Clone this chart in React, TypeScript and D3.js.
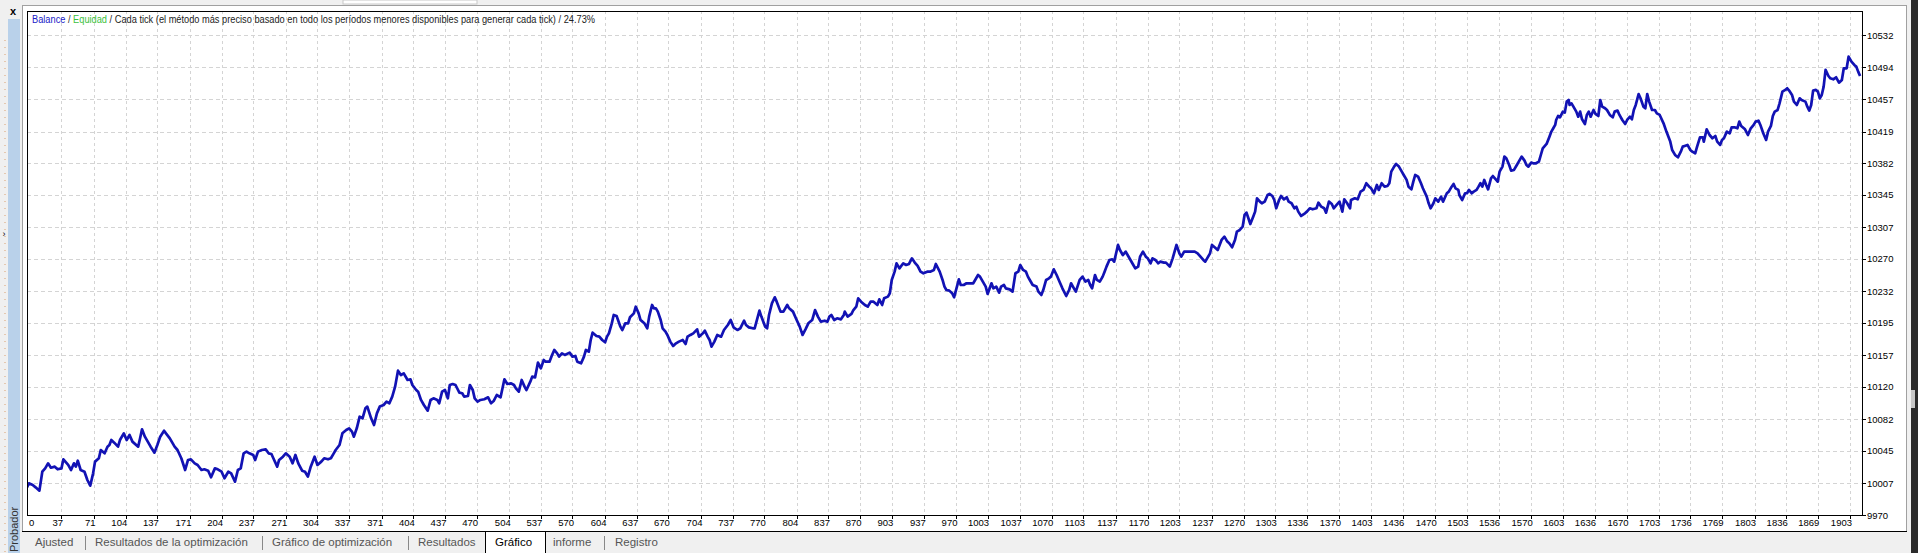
import React from 'react';
import * as d3 from 'd3';

// trade number / balance
const trades = [
  0, 3, 7, 10, 14, 17, 20, 23, 26, 30, 33, 37, 39, 44, 47, 50, 52, 54, 57, 61, 64, 67, 70, 72, 76, 78, 82, 85, 87, 89,
  92, 96, 98, 102, 105, 108, 111, 117, 119, 121, 124, 127, 130, 134, 137, 140, 144, 146, 150, 155, 158, 162, 166, 169,
  172, 176, 179, 183, 186, 190, 193, 197, 200, 204, 207, 211, 214, 218, 221, 224, 227, 230, 233, 237, 239, 242, 246,
  250, 253, 256, 258, 262, 264, 268, 271, 275, 278, 281, 284, 288, 291, 294, 297, 301, 304, 308, 311, 315, 318,
  321, 323, 327, 330, 334, 337, 340, 342, 345, 348, 351, 354, 356, 360, 363, 366, 369, 373, 376, 379, 382, 385, 388,
  391, 394, 398, 401, 403, 407, 409, 412, 415, 419, 422, 425, 429, 431, 434, 437, 440, 442, 445, 448, 452, 455, 457,
  461, 463, 466, 468, 471, 474, 478, 482, 485, 488, 491, 495, 499, 502, 506, 509, 511, 514, 517, 520, 522, 526, 528,
  531, 534, 537, 540, 542, 546, 548, 551, 554, 556, 559, 562, 567, 570, 573, 575, 579, 582, 584, 587, 589, 591, 595,
  598, 601, 604, 606, 608, 611, 613, 616, 620, 622, 625, 628, 630, 634, 636,
  639, 641, 643, 645, 648, 650, 653, 655, 657, 659, 662, 664, 667, 669, 672, 675, 678, 681, 685, 688, 690, 693, 696,
  700, 702, 706, 708, 711, 713, 715, 718, 721, 725, 728, 732, 735, 738, 742, 745, 749, 751, 754, 758, 760, 765, 767,
  771, 773, 775, 778, 781, 783, 787, 790, 794, 796, 800, 803, 807, 810, 813, 816, 820, 823, 826, 829, 833, 836, 838,
  840, 843, 846, 850, 853, 854, 857, 861, 863, 866, 868, 871, 875, 878, 881, 884, 888, 890, 893, 895, 899, 901, 903,
  906, 908, 911, 915, 918, 921, 924, 927, 930, 933, 936, 940, 943, 947, 949, 953, 956, 958,
  960, 963, 966, 968, 971, 973, 975, 978, 981, 984, 988, 990, 993, 995, 998, 1001, 1003, 1007, 1009, 1012, 1015,
  1017, 1020, 1022, 1026, 1029, 1032, 1035, 1037, 1040, 1043, 1045, 1047, 1050, 1054, 1056, 1059, 1061, 1064, 1067,
  1069, 1072, 1075, 1078, 1081, 1085, 1088, 1090, 1093, 1095, 1099, 1102, 1105, 1108, 1110, 1112, 1115, 1117, 1120,
  1123, 1125, 1127, 1130, 1133, 1135, 1139, 1141, 1144, 1147, 1149, 1152, 1155, 1157, 1160, 1162, 1165, 1168, 1170,
  1173, 1175, 1178, 1181, 1183, 1187, 1189, 1193, 1196, 1198, 1200, 1203, 1205, 1208, 1212, 1215, 1219, 1222, 1225,
  1228, 1230, 1233, 1235, 1237, 1241, 1243, 1247, 1250, 1253, 1255, 1258, 1261, 1263, 1266, 1269,
  1271, 1273, 1275, 1277, 1280, 1282, 1284, 1287, 1289, 1292, 1295, 1297, 1300, 1302, 1304, 1307, 1309, 1312, 1315,
  1317, 1320, 1323, 1325, 1327, 1330, 1334, 1336, 1339, 1342, 1346, 1348, 1351, 1354, 1356, 1359, 1362, 1364, 1367,
  1370, 1373, 1375, 1378, 1381, 1382, 1386, 1389, 1392, 1395, 1398, 1401, 1403, 1406, 1409, 1411, 1414, 1417, 1420,
  1422, 1424, 1427, 1429, 1432, 1435, 1437, 1440, 1442, 1445, 1447, 1449, 1452, 1455, 1457, 1461, 1463, 1465, 1468,
  1470, 1473, 1476, 1478, 1482, 1484, 1487, 1489, 1491, 1494, 1495, 1498, 1501, 1503, 1505, 1508, 1510, 1513, 1515,
  1517, 1519, 1521, 1523, 1525, 1528, 1530, 1533, 1535, 1537, 1540, 1542, 1544, 1547, 1549, 1552, 1555, 1557, 1560,
  1563, 1565, 1567, 1570, 1572, 1575, 1578, 1580, 1582, 1586,
  1589, 1591, 1593, 1595, 1596, 1598, 1600, 1603, 1605, 1607, 1609, 1610, 1612, 1614, 1617, 1619, 1621, 1623, 1626,
  1628, 1630, 1632, 1635, 1637, 1640, 1642, 1644, 1647, 1649, 1652, 1655, 1657, 1660, 1662, 1665, 1668, 1670, 1673,
  1675, 1677, 1679, 1682, 1684, 1687, 1689, 1691, 1693, 1696, 1699, 1701, 1704, 1708, 1711, 1715, 1717, 1720, 1723,
  1726, 1728, 1730, 1733, 1736, 1738, 1741, 1743, 1746, 1749, 1750, 1753, 1756, 1759, 1762, 1764, 1767, 1769, 1771,
  1774, 1777, 1779, 1782, 1785, 1787, 1789, 1793, 1796, 1799, 1802, 1804, 1807, 1809, 1812, 1815, 1817, 1820, 1822,
  1824, 1827, 1829, 1832, 1835, 1837, 1839, 1842, 1844, 1847, 1850, 1852, 1856, 1858, 1860, 1862, 1864, 1867, 1869,
  1871, 1873, 1875, 1877, 1880, 1882, 1885, 1888, 1891, 1894, 1896, 1899, 1901, 1904, 1907, 1909, 1911, 1913,
];

const balance = [
  10000.0, 10007.1, 10005.1, 10002.4, 9998.5, 10020.7, 10024.6, 10030.5, 10025.4, 10026.6, 10023.5, 10024.6, 10035.2,
  10028.6, 10022.7, 10030.5, 10026.6, 10033.6, 10022.7, 10020.7, 10011.0, 10004.3, 10018.8, 10032.5, 10036.4, 10046.1,
  10042.2, 10050.0, 10052.0, 10057.8, 10054.7, 10050.0, 10057.8, 10065.6, 10057.8, 10063.7, 10055.9, 10050.0, 10059.8,
  10070.3, 10061.7, 10055.9, 10050.0, 10043.0, 10052.0, 10061.7, 10068.7, 10065.6, 10059.8, 10050.0, 10046.1, 10036.4,
  10022.7, 10034.4, 10035.2, 10030.5, 10028.6, 10022.7, 10023.5, 10021.9, 10014.1, 10024.6, 10023.5, 10020.7, 10013.0,
  10020.7, 10018.8, 10009.0, 10022.7, 10024.6, 10042.2, 10044.2, 10042.2, 10040.3, 10034.4, 10044.2, 10046.1, 10046.9,
  10042.2, 10041.4, 10036.4, 10026.6, 10034.4, 10038.3, 10042.2, 10038.3, 10030.5, 10040.3, 10030.5, 10021.9, 10020.7,
  10014.9, 10026.6, 10038.3, 10028.6, 10032.5, 10036.4, 10035.2, 10036.4,
  10042.2, 10046.1, 10052.0, 10065.6, 10069.5, 10071.5, 10067.6, 10061.7, 10071.5, 10085.1, 10083.2, 10094.9, 10096.9,
  10083.2, 10075.4, 10089.0, 10096.9, 10098.8, 10102.7, 10100.8, 10108.6, 10120.3, 10139.0, 10133.9, 10135.9, 10128.1,
  10128.9, 10122.2, 10116.4, 10114.4, 10104.7, 10098.8, 10092.2, 10104.7, 10106.6, 10104.7, 10100.8, 10114.4, 10116.4,
  10106.6, 10122.2, 10123.4, 10122.2, 10113.2, 10112.5, 10108.6, 10109.3, 10122.2, 10116.4, 10106.6, 10102.7, 10104.7,
  10105.5, 10107.8, 10100.8, 10103.9, 10110.5, 10107.8, 10128.9, 10123.4, 10124.2, 10122.2, 10118.3, 10114.4, 10128.1,
  10120.3, 10116.4, 10126.1, 10132.0, 10131.2, 10148.4, 10141.7, 10151.5, 10149.5, 10149.5, 10155.4, 10163.2, 10159.3,
  10155.4, 10159.3, 10157.4, 10160.1, 10155.4, 10156.2, 10149.5, 10147.6, 10155.4, 10163.2, 10161.2, 10174.9, 10183.5,
  10179.6, 10178.8, 10174.9, 10172.2, 10178.8, 10182.7, 10194.4, 10204.2, 10203.0, 10190.5, 10186.6, 10194.4, 10194.4,
  10201.5, 10206.1, 10213.9,
  10206.1, 10198.3, 10196.4, 10194.4, 10188.6, 10202.3, 10215.9, 10212.0, 10212.0, 10208.1, 10198.3, 10188.6, 10184.7,
  10180.8, 10173.0, 10167.9, 10171.0, 10173.0, 10174.9, 10170.2, 10178.8, 10180.8, 10182.7, 10187.4, 10178.8, 10182.7,
  10185.8, 10178.8, 10174.9, 10167.1, 10173.0, 10180.8, 10178.8, 10186.6, 10192.5, 10198.3, 10189.7, 10186.6, 10188.6,
  10197.5, 10192.5, 10189.7, 10188.6, 10188.6, 10209.3, 10202.3, 10190.5, 10188.6, 10204.2, 10217.8, 10224.9, 10219.8,
  10208.1, 10208.1, 10215.9, 10212.0, 10208.1, 10200.3, 10190.5, 10180.8, 10187.4, 10194.4, 10198.3, 10210.0, 10202.3,
  10196.4, 10197.5, 10196.4, 10202.3, 10204.2, 10198.3, 10200.3, 10199.1, 10204.2, 10208.1, 10202.3, 10205.4, 10210.0,
  10213.9, 10223.7, 10219.8, 10215.9, 10213.9, 10219.8, 10219.8, 10215.9, 10222.5, 10215.9, 10223.7, 10225.7, 10229.6,
  10245.2, 10254.9, 10264.7, 10258.8, 10264.7, 10262.7, 10263.9, 10270.5, 10265.5, 10261.6, 10254.9, 10253.0, 10254.9,
  10254.9, 10256.9, 10263.9, 10254.9, 10245.2, 10237.4,
  10233.4, 10232.7, 10229.6, 10224.9, 10237.4, 10245.9, 10239.3, 10239.3, 10241.3, 10241.3, 10241.3, 10245.2, 10251.0,
  10249.1, 10243.2, 10237.4, 10228.8, 10241.3, 10235.4, 10237.4, 10230.3, 10237.4, 10239.3, 10235.4, 10234.2, 10231.5,
  10253.0, 10254.9, 10262.7, 10256.9, 10254.9, 10249.1, 10245.2, 10239.3, 10237.4, 10231.5, 10227.6, 10233.4, 10245.2,
  10247.1, 10249.1, 10257.7, 10251.0, 10243.2, 10235.4, 10226.4, 10233.4, 10241.3, 10235.4, 10231.5, 10245.2, 10249.1,
  10243.2, 10245.2, 10239.3, 10235.4, 10251.0, 10245.2, 10243.2, 10249.1, 10254.9, 10260.8, 10268.6, 10269.4, 10266.6,
  10286.2, 10280.3, 10274.4, 10278.4, 10274.4, 10268.6, 10262.7, 10258.8, 10260.8, 10272.5, 10278.4, 10272.5, 10270.5,
  10264.7, 10270.5, 10268.6, 10264.7, 10266.6, 10265.5, 10265.5, 10260.8, 10270.5, 10278.4, 10286.2, 10276.4, 10272.5,
  10278.4, 10278.4, 10278.4, 10278.4, 10276.4, 10272.5, 10268.6, 10266.6, 10272.5, 10276.4, 10286.2, 10282.3, 10280.3,
  10292.0, 10295.9, 10290.1, 10288.1, 10283.4, 10292.0, 10301.8, 10303.7, 10307.6,
  10321.3, 10324.0, 10317.4, 10310.7, 10319.3, 10325.2, 10340.8, 10336.9, 10335.0, 10336.9, 10344.7, 10345.9, 10343.5,
  10338.8, 10329.1, 10338.8, 10343.5, 10339.6, 10342.0, 10336.9, 10335.0, 10329.1, 10331.0, 10325.2, 10320.1, 10323.2,
  10325.2, 10329.1, 10327.9, 10329.1, 10335.7, 10331.0, 10329.1, 10324.0, 10336.9, 10334.2, 10329.1, 10333.0, 10336.9,
  10325.2, 10339.6, 10335.0, 10329.1, 10338.8, 10340.8, 10339.6, 10348.6, 10350.6, 10358.4, 10354.4, 10352.5, 10346.7,
  10356.4, 10350.6, 10358.4, 10354.4, 10355.2, 10358.4, 10372.0, 10377.9, 10381.0, 10377.9, 10372.0, 10368.1, 10362.3,
  10354.4, 10351.3, 10360.3, 10368.1, 10366.2, 10358.4, 10352.5, 10342.7, 10335.0, 10329.1, 10335.0, 10340.8, 10336.9,
  10342.7, 10336.9, 10346.7, 10348.6, 10354.4, 10357.6, 10352.5, 10350.6, 10344.7, 10338.8, 10346.7, 10346.7, 10350.6,
  10346.7, 10348.6, 10350.6, 10354.4, 10358.4, 10354.4, 10362.3, 10356.4, 10351.3, 10364.2, 10366.9, 10363.0, 10360.3,
  10372.0, 10377.9, 10389.6, 10387.6, 10379.8, 10373.2, 10374.0, 10379.8, 10383.7, 10389.6, 10384.9, 10379.8, 10377.9,
  10382.6, 10381.8, 10381.8, 10383.7, 10391.5, 10399.3, 10404.4,
  10413.0, 10418.9, 10422.8, 10426.7, 10432.5, 10437.2, 10435.6, 10442.3, 10441.1, 10454.0, 10455.9, 10450.1, 10452.0,
  10448.1, 10442.3, 10436.4, 10442.3, 10433.3, 10427.8, 10438.4, 10442.3, 10436.4, 10444.2, 10439.6, 10437.2, 10455.9,
  10448.1, 10446.2, 10444.2, 10438.4, 10435.6, 10442.3, 10443.5, 10438.4, 10432.5, 10427.8, 10432.5, 10436.4, 10433.3,
  10444.2, 10450.1, 10462.9, 10457.9, 10448.1, 10446.2, 10462.9, 10454.0, 10444.2, 10444.2, 10440.3, 10438.4, 10428.6,
  10418.9, 10407.2, 10397.4, 10391.6, 10388.8, 10395.4, 10401.3, 10402.1, 10403.3, 10397.4, 10395.4, 10393.5, 10401.3,
  10412.2, 10412.2, 10407.2, 10421.6, 10414.9, 10411.1, 10413.8, 10407.2, 10403.3, 10409.1, 10411.1, 10418.9, 10416.9,
  10423.9, 10423.9, 10422.8, 10430.6, 10425.5, 10421.6, 10414.9, 10422.8, 10426.7, 10430.6, 10431.7, 10426.7, 10416.9,
  10409.1, 10418.9, 10425.5, 10437.2, 10442.3, 10444.2, 10452.0, 10465.7, 10467.7, 10469.6, 10466.9, 10461.8, 10454.0,
  10450.1, 10457.9, 10455.9, 10454.0, 10448.1, 10443.5, 10450.1, 10466.9, 10467.7, 10465.7, 10457.9, 10461.8, 10471.6,
  10491.1, 10484.0, 10481.3, 10480.1, 10482.5, 10476.2, 10479.4, 10493.0, 10493.0, 10506.7, 10500.8, 10496.9, 10495.0,
  10489.1, 10484.0,
];

const xTickLabels = [
  0, 37, 71, 104, 137, 171, 204, 237, 271, 304, 337, 371, 404, 437, 470, 504, 537, 570, 604, 637, 670, 704, 737, 770,
  804, 837, 870, 903, 937, 970, 1003, 1037, 1070, 1103, 1137, 1170, 1203, 1237, 1270, 1303, 1336, 1370, 1403, 1436,
  1470, 1503, 1536, 1570, 1603, 1636, 1670, 1703, 1736, 1769, 1803, 1836, 1869, 1903,
];

const yTickLabels = [
  9970, 10007, 10045, 10082, 10120, 10157, 10195, 10232, 10270, 10307, 10345, 10382, 10419, 10457, 10494, 10532,
];

const tabNames = [
  'Ajusted', 'Resultados de la optimización', 'Gráfico de optimización', 'Resultados', 'Gráfico', 'informe', 'Registro',
];

const W = 1918;
const H = 553;
const plotL = 27;
const plotR = 1862;
const plotT = 11;
const plotB = 515;
const FONT = '"Liberation Sans", Arial, sans-serif';

const App = () => {
  const x = d3.scaleLinear().domain([0, 1915]).range([26, plotR]);
  const y = d3.scaleLinear().domain([9970, 10532]).range([plotB, 35]);

  const line = d3.line<number>()
    .x((_, i) => x(trades[i]))
    .y(d => y(d));

  const tabX = [35, 95, 272, 418, 495, 553, 615];
  const sepX = [85, 262, 408, 604];

  return (
    <svg width={W} height={H} style={{ position: 'absolute', left: 0, top: 0, background: '#fff' }}
      fontFamily={FONT}>
      <defs>
        <clipPath id="plot">
          <rect x={plotL} y={plotT} width={plotR - plotL} height={plotB - plotT} />
        </clipPath>
      </defs>

      {/* window chrome */}
      <rect x={0} y={0} width={W} height={H} fill="#fff" />
      <rect x={0} y={0} width={W} height={5} fill="#f0f0f0" />
      <rect x={343} y={0} width={134} height={4} fill="#fff" stroke="#c8c8c8" />
      <rect x={0} y={0} width={22} height={H} fill="#f0f0f0" />
      <rect x={8} y={19} width={12} height={H - 19} fill="#b9d1ea" />
      <line x1={5} x2={5} y1={40} y2={H} stroke="#d9a070" strokeDasharray="1,6" />
      <text x={13} y={15} fontSize={11} fontWeight="bold" textAnchor="middle" fontFamily="Arial, sans-serif">x</text>
      <text x={4} y={237} fontSize={9} textAnchor="middle">›</text>
      <text transform="translate(18,552) rotate(-90)" fontSize={11} fill="#333">Probador</text>
      <line x1={22.5} x2={22.5} y1={5} y2={532} stroke="#a0a0a0" />
      <line x1={22} x2={1907} y1={5.5} y2={5.5} stroke="#a0a0a0" />
      <rect x={1907} y={0} width={5} height={H} fill="#f0f0f0" />
      <line x1={1906.5} x2={1906.5} y1={5} y2={532} stroke="#a0a0a0" />
      <rect x={1911} y={0} width={7} height={H} fill="#2b2b2b" />
      <rect x={1911} y={390} width={4} height={18} fill="#c8c8c8" />

      {/* grid */}
      {yTickLabels.slice(1).map(v => (
        <line key={`gy${v}`} x1={plotL} x2={plotR} y1={Math.round(y(v)) + 0.5} y2={Math.round(y(v)) + 0.5}
          stroke="#d4d4d4" strokeDasharray="4,3" />
      ))}
      {xTickLabels.slice(1).map(v => (
        <line key={`gx${v}`} x1={Math.round(x(v)) + 0.5} x2={Math.round(x(v)) + 0.5} y1={plotT} y2={plotB}
          stroke="#d4d4d4" strokeDasharray="3,3" />
      ))}

      {/* balance */}
      <path d={line(balance) ?? ''} fill="none" stroke="#1212b4" strokeWidth={2.7}
        strokeLinejoin="round" clipPath="url(#plot)" />

      {/* frame */}
      <rect x={plotL + 0.5} y={plotT + 0.5} width={plotR - plotL} height={plotB - plotT} fill="none" stroke="#000" />

      {/* y axis */}
      {yTickLabels.map(v => (
        <g key={`ty${v}`}>
          <line x1={plotR} x2={plotR + 4} y1={Math.round(y(v)) + 0.5} y2={Math.round(y(v)) + 0.5} stroke="#000" />
          <text x={plotR + 5} y={y(v) + 3.5} fontSize={9.5} fill="#000">{v}</text>
        </g>
      ))}

      {/* x axis */}
      {xTickLabels.map(v => (
        <g key={`tx${v}`}>
          {v > 0 && <line x1={Math.round(x(v)) + 0.5} x2={Math.round(x(v)) + 0.5} y1={plotB} y2={plotB + 4} stroke="#000" />}
          <text x={v === 0 ? plotL + 2 : x(v) + 1.5} y={526} fontSize={9.5}
            textAnchor={v === 0 ? 'start' : 'end'}>{v}</text>
        </g>
      ))}

      {/* legend */}
      <text x={32} y={23} fontSize={10} textLength={563} lengthAdjust="spacingAndGlyphs">
        <tspan fill="#2020c8">Balance</tspan>
        <tspan fill="#333"> / </tspan>
        <tspan fill="#3cbf3c">Equidad</tspan>
        <tspan fill="#222"> / Cada tick (el método más preciso basado en todo los períodos menores disponibles para generar cada tick)  / 24.73%</tspan>
      </text>

      {/* bottom tabs */}
      <rect x={22} y={532} width={1885} height={H - 532} fill="#f0f0f0" />
      <line x1={22} x2={1907} y1={531.5} y2={531.5} stroke="#000" />
      <rect x={485.5} y={531.5} width={60} height={22} fill="#fff" stroke="#000" />
      {tabNames.map((t, i) => (
        <text key={t} x={tabX[i]} y={546} fontSize={11.5} fill={i === 4 ? '#000' : '#555'}>{t}</text>
      ))}
      {sepX.map(sx => (
        <line key={`s${sx}`} x1={sx + 0.5} x2={sx + 0.5} y1={536} y2={550} stroke="#888" />
      ))}
    </svg>
  );
};

export default App;
